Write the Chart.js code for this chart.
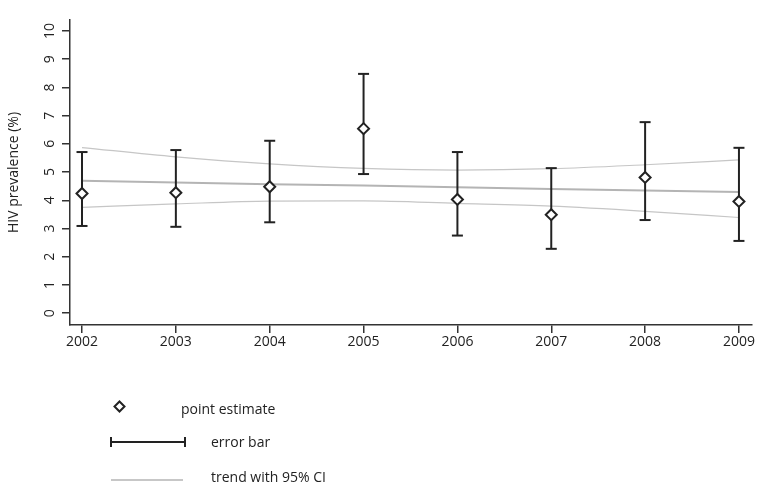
<!DOCTYPE html>
<html><head><meta charset="utf-8">
<script src="https://cdn.jsdelivr.net/npm/chart.js@4/dist/chart.umd.min.js"></script>
<style>html,body{margin:0;padding:0;background:#fff}#wrap{width:767px;height:488px}</style>
</head><body><div id="wrap"><canvas id="c" width="767" height="488"></canvas></div>
<script>
const years = [2002, 2003, 2004, 2005, 2006, 2007, 2008, 2009];
const estimates = [4.24, 4.27, 4.48, 6.54, 4.03, 3.49, 4.81, 3.96];
const lowerBars = [3.09, 3.06, 3.22, 4.93, 2.75, 2.28, 3.30, 2.56];
const upperBars = [5.71, 5.78, 6.11, 8.48, 5.71, 5.14, 6.77, 5.86];
const trend = [4.69, 4.63, 4.57, 4.52, 4.46, 4.40, 4.35, 4.29];
const trendUpper = [5.87, 5.54, 5.29, 5.13, 5.07, 5.12, 5.26, 5.43];
const trendLower = [3.75, 3.87, 3.97, 3.98, 3.89, 3.79, 3.61, 3.39];
const yTicks = [0, 1, 2, 3, 4, 5, 6, 7, 8, 9, 10];
const xTicks = years;
const yTitle = 'HIV prevalence (%)';
const legendLabels = ['point estimate', 'error bar', 'trend with 95% CI'];

const FONT = '"Open Sans", "DejaVu Sans", sans-serif';
const DARK = '#222222';
const GRAY = '#b4b4b4';
const LIGHT = '#c6c6c6';

const datasets = [];
datasets.push({
  label: legendLabels[0],
  data: years.map((x, i) => ({x, y: estimates[i]})),
  showLine: false,
  pointStyle: 'rectRot',
  pointRadius: 5.5,
  pointBorderWidth: 2,
  pointBorderColor: DARK,
  pointBackgroundColor: '#ffffff',
  order: 0
});
years.forEach((x, i) => {
  datasets.push({
    label: legendLabels[1],
    data: [{x, y: lowerBars[i]}, {x, y: upperBars[i]}],
    borderColor: DARK,
    borderWidth: 2,
    pointStyle: 'line',
    pointRadius: 5.5,
    pointBorderWidth: 2,
    pointBorderColor: DARK,
    order: 1
  });
});
datasets.push({
  label: legendLabels[2],
  data: years.map((x, i) => ({x, y: trend[i]})),
  borderColor: GRAY, borderWidth: 2, pointRadius: 0, order: 2
});
[trendUpper, trendLower].forEach(arr => {
  datasets.push({
    label: 'CI',
    data: years.map((x, i) => ({x, y: arr[i]})),
    borderColor: LIGHT, borderWidth: 1.2, pointRadius: 0,
    cubicInterpolationMode: 'monotone', order: 2
  });
});

const legendPlugin = {
  id: 'customLegend',
  afterDraw(chart) {
    const ctx = chart.ctx;
    ctx.save();
    ctx.beginPath();
    ctx.moveTo(119.5, 401.5); ctx.lineTo(124.5, 406.5); ctx.lineTo(119.5, 411.5); ctx.lineTo(114.5, 406.5); ctx.closePath();
    ctx.fillStyle = '#fff'; ctx.fill();
    ctx.lineWidth = 2; ctx.strokeStyle = DARK; ctx.stroke();
    ctx.beginPath();
    ctx.moveTo(111, 442); ctx.lineTo(185, 442);
    ctx.moveTo(111, 437); ctx.lineTo(111, 447);
    ctx.moveTo(185, 437); ctx.lineTo(185, 447);
    ctx.stroke();
    ctx.beginPath();
    ctx.strokeStyle = GRAY; ctx.lineWidth = 1.5;
    ctx.moveTo(111, 480); ctx.lineTo(183, 480);
    ctx.stroke();
    ctx.fillStyle = DARK;
    ctx.font = '14px ' + FONT;
    ctx.textBaseline = 'middle';
    ctx.textAlign = 'left';
    ctx.fillText(legendLabels[0], 181, 410);
    ctx.fillText(legendLabels[1], 211, 443);
    ctx.fillText(legendLabels[2], 211, 478);
    ctx.restore();
  }
};

new Chart(document.getElementById('c'), {
  type: 'line',
  data: {datasets},
  plugins: [legendPlugin],
  options: {
    responsive: false,
    animation: false,
    devicePixelRatio: 1,
    layout: {padding: {left: 0, right: 15, top: 20, bottom: 0}},
    plugins: {legend: {display: false}, tooltip: {enabled: false}},
    scales: {
      x: {
        type: 'linear',
        min: 2001.872, max: 2009.139,
        afterBuildTicks: s => { s.ticks = xTicks.map(v => ({value: v})); },
        afterFit: s => { s.height = 163; },
        border: {display: true, color: '#333', width: 1.5},
        grid: {drawOnChartArea: false, drawTicks: true, tickLength: 8, color: '#333', lineWidth: 1.5},
        ticks: {color: DARK, font: {family: FONT, size: 14}, padding: 1, maxRotation: 0, autoSkip: false,
          callback: v => String(v)}
      },
      y: {
        type: 'linear',
        min: -0.42, max: 10.39,
        afterBuildTicks: s => { s.ticks = yTicks.map(v => ({value: v})); },
        afterFit: s => { s.width = 70; },
        border: {display: true, color: '#333', width: 1.5},
        grid: {drawOnChartArea: false, drawTicks: true, tickLength: 8, color: '#333', lineWidth: 1.5},
        ticks: {color: DARK, font: {family: FONT, size: 14}, padding: 4, minRotation: 90, maxRotation: 90,
          crossAlign: 'center', autoSkip: false, callback: v => String(v)},
        title: {display: true, text: yTitle, color: DARK, font: {family: FONT, size: 14}, padding: {top: 6, bottom: 0}}
      }
    }
  }
});
</script></body></html>
